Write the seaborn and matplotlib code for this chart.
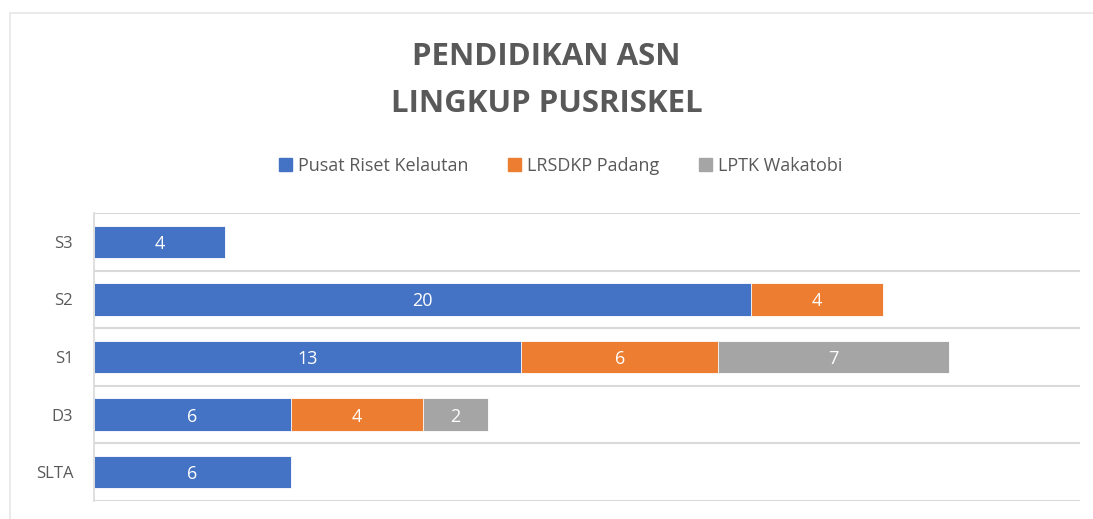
import numpy as np
import pandas as pd
import matplotlib
matplotlib.use("Agg")
import matplotlib.pyplot as plt
from matplotlib.patches import Patch
from matplotlib.lines import Line2D
import seaborn as sns

# data
categories = ["S3", "S2", "S1", "D3", "SLTA"]
pusat_riset = [4, 20, 13, 6, 6]
lrsdkp_padang = [0, 4, 6, 4, 0]
lptk_wakatobi = [0, 0, 7, 2, 0]
series_names = ["Pusat Riset Kelautan", "LRSDKP Padang", "LPTK Wakatobi"]
colors = ["#4472C4", "#ED7D31", "#A5A5A5"]

TEXT_GRAY = "#595959"
GRID_GRAY = "#D9D9D9"

sns.set_theme(style="white")
plt.rcParams["font.family"] = ["Open Sans", "DejaVu Sans"]

df = pd.DataFrame({
    "kategori": categories,
    series_names[0]: pusat_riset,
    series_names[1]: lrsdkp_padang,
    series_names[2]: lptk_wakatobi,
})
# cumulative totals so the series can be drawn stacked (back to front)
cum = df[series_names].cumsum(axis=1)
cum["kategori"] = df["kategori"]

fig = plt.figure(figsize=(10.93, 5.19), dpi=100)
ax = fig.add_axes([94 / 1093, 1 - 501 / 519, (1080 - 94) / 1093, (501 - 213) / 519])

for name, col in reversed(list(zip(series_names, colors))):
    sns.barplot(data=cum, x=name, y="kategori", orient="h", color=col,
                saturation=1, width=0.56, edgecolor="white", linewidth=0.6, ax=ax)

# value labels centred in each segment
for j, name in enumerate(series_names):
    prev = cum[series_names[j - 1]] if j > 0 else pd.Series(0, index=df.index)
    for i, v in enumerate(df[name]):
        if v > 0:
            ax.text(prev.iloc[i] + v / 2, i, str(v), ha="center", va="center_baseline",
                    color="white", fontsize=13)

ax.set_xlim(0, 30)
ax.set_ylim(4.5, -0.5)
ax.set_xlabel("")
ax.set_ylabel("")
ax.set_xticks([])
ax.set_yticks(range(len(categories)))
ax.set_yticklabels(categories, color=TEXT_GRAY, fontsize=12)
ax.tick_params(axis="y", length=0, pad=15)

# horizontal separators between categories
ax.set_yticks(np.arange(-0.5, len(categories)), minor=True)
ax.tick_params(axis="y", which="minor", length=0)
ax.grid(which="minor", axis="y", color=GRID_GRAY, linewidth=1.5)
ax.set_axisbelow(True)
for side in ["top", "right", "bottom"]:
    ax.spines[side].set_visible(False)
ax.spines["left"].set_color(GRID_GRAY)
ax.spines["left"].set_linewidth(1.2)

# outer chart frame (partially cut off in the reference)
fig.add_artist(Line2D([10 / 1093, 10 / 1093], [0, 1 - 13 / 519], transform=fig.transFigure,
                      color="#E6E6E6", linewidth=1.2))
fig.add_artist(Line2D([10 / 1093, 1], [1 - 13 / 519, 1 - 13 / 519], transform=fig.transFigure,
                      color="#E6E6E6", linewidth=1.2))

fig.text(0.5, 1 - 57 / 519, "PENDIDIKAN ASN", ha="center", va="center",
         fontsize=22.5, fontweight="bold", color=TEXT_GRAY)
fig.text(0.5, 1 - 104 / 519, "LINGKUP PUSRISKEL", ha="center", va="center",
         fontsize=22.5, fontweight="bold", color=TEXT_GRAY)

handles = [Patch(facecolor=c, edgecolor=c) for c in colors]
fig.legend(handles, series_names, loc="center", bbox_to_anchor=(0.513, 1 - 166 / 519),
           ncol=3, frameon=False, fontsize=13, handlelength=0.7, handleheight=0.7,
           handletextpad=0.35, columnspacing=2.2, labelcolor=TEXT_GRAY)

fig.savefig("out.png", dpi=100, facecolor="white")
